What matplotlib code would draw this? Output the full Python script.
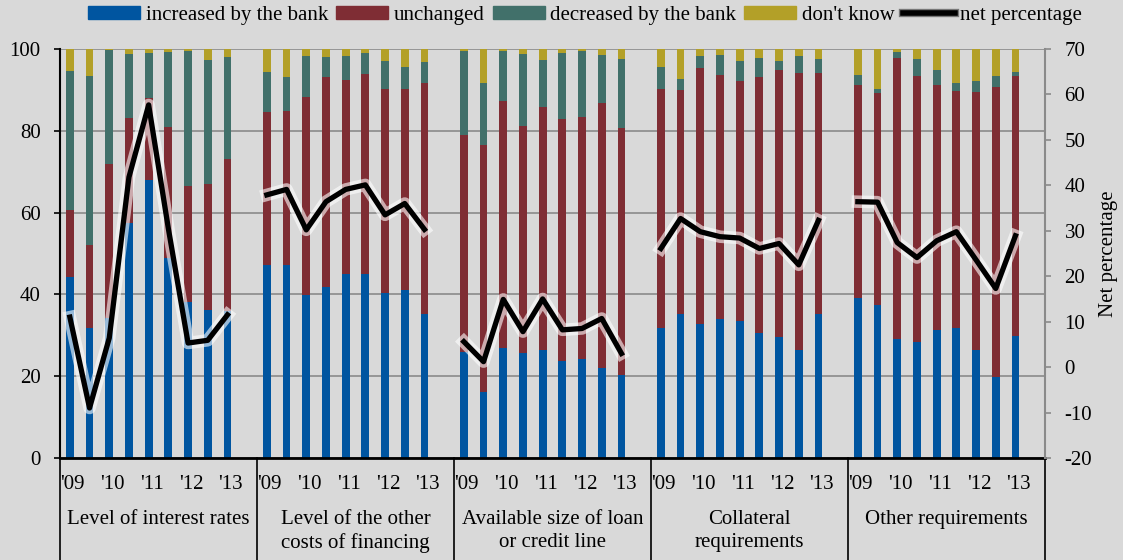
import numpy as np
import matplotlib
matplotlib.use("Agg")
import matplotlib.pyplot as plt
import matplotlib.transforms as mtrans
import matplotlib.patheffects as pe
from matplotlib.patches import Patch
from matplotlib.lines import Line2D

plt.rcParams['font.family'] = ['Liberation Serif', 'DejaVu Serif']
plt.rcParams['axes.unicode_minus'] = False

groups = ["Level of interest rates", "Level of the other\ncosts of financing",
          "Available size of loan\nor credit line", "Collateral\nrequirements",
          "Other requirements"]
years = ["'09", "'10", "'11", "'12", "'13"]

# shares in %, 9 half-years per group ('09 to '13)
increased = [
    [44.2, 31.9, 34.2, 57.4, 68.0, 48.8, 38.2, 36.3, 36.0],
    [47.3, 47.1, 39.8, 41.8, 44.9, 44.9, 40.4, 41.1, 35.3],
    [26.0, 16.2, 27.0, 25.6, 26.5, 23.7, 24.3, 21.9, 20.2],
    [31.7, 35.1, 32.7, 33.9, 33.5, 30.6, 29.5, 26.5, 35.3],
    [39.0, 37.3, 29.0, 28.4, 31.4, 31.8, 26.5, 19.8, 29.8],
]
unchanged = [
    [16.5, 20.2, 37.7, 25.7, 20.0, 32.1, 28.3, 30.7, 37.1],
    [37.2, 37.7, 48.5, 51.4, 47.4, 49.1, 49.7, 49.0, 56.5],
    [52.9, 60.4, 60.3, 55.6, 59.2, 59.2, 59.0, 65.0, 60.4],
    [58.5, 54.9, 62.6, 59.7, 58.7, 62.5, 65.4, 67.6, 58.8],
    [52.1, 51.9, 68.8, 65.0, 59.9, 57.9, 63.1, 70.9, 63.5],
]
decreased = [
    [33.8, 41.4, 27.8, 15.7, 10.9, 18.4, 33.1, 30.2, 24.9],
    [9.8, 8.3, 9.9, 4.9, 6.1, 5.0, 7.0, 5.4, 4.9],
    [20.5, 15.1, 12.1, 17.6, 11.7, 16.1, 16.1, 11.7, 17.0],
    [5.3, 2.7, 2.9, 4.9, 4.8, 4.8, 2.2, 4.3, 3.5],
    [2.6, 1.1, 1.5, 4.2, 3.5, 2.1, 2.5, 2.8, 1.0],
]
dont_know = [
    [5.5, 6.5, 0.3, 1.2, 1.1, 0.7, 0.4, 2.8, 2.0],
    [5.7, 6.9, 1.8, 1.9, 1.6, 1.0, 2.9, 4.5, 3.3],
    [0.6, 8.3, 0.6, 1.2, 2.6, 1.0, 0.6, 1.4, 2.4],
    [4.5, 7.3, 1.8, 1.5, 3.0, 2.1, 2.9, 1.6, 2.4],
    [6.3, 9.7, 0.7, 2.4, 5.2, 8.2, 7.9, 6.5, 5.7],
]
net = [
    [11.0, -9.0, 6.4, 41.8, 57.7, 30.5, 5.3, 5.9, 11.5],
    [37.9, 39.1, 30.2, 36.4, 39.1, 40.1, 33.5, 36.0, 30.3],
    [5.6, 1.2, 14.9, 7.8, 15.0, 8.2, 8.5, 10.7, 3.0],
    [26.1, 32.7, 29.8, 28.7, 28.4, 26.1, 27.2, 22.5, 32.3],
    [36.4, 36.3, 27.4, 24.1, 27.8, 29.8, 23.6, 17.3, 28.9],
]

cols = ['#0055a0', '#7f2d34', '#41706a', '#b3a028']
bg = '#d9d9d9'
halo = [pe.Stroke(linewidth=9, foreground='white', alpha=0.6), pe.Normal()]
fs = 15

fig = plt.figure(figsize=(11.23, 5.6), dpi=100, facecolor=bg)
ax = fig.add_axes([60/1123, 102/560, 985/1123, 409/560])
ax.set_facecolor(bg)
ax2 = ax.twinx()

for g in range(5):
    x = g*10 + np.arange(9)
    bottom = np.zeros(9)
    for vals, c in zip([increased[g], unchanged[g], decreased[g], dont_know[g]], cols):
        ax.bar(x, vals, 0.4, bottom=bottom, color=c, zorder=2)
        bottom += np.array(vals)
    ax2.plot(x, net[g], color='black', lw=3.8, path_effects=halo, zorder=3)

ax.set_xlim(-0.5, 49.5)
ax.set_ylim(0, 100)
ax2.set_ylim(-20, 70)
ax.set_yticks(range(0, 101, 20))
ax2.set_yticks(range(-20, 71, 10))
ax.set_xticks([])
ax.yaxis.grid(True, color='#8a8a8a', lw=1.2, zorder=0)
ax.set_axisbelow(True)

for s in ['top', 'right']:
    ax.spines[s].set_visible(False)
ax.spines['left'].set_linewidth(1.5)
ax.spines['bottom'].set_linewidth(2)
for s in ['top', 'left', 'bottom']:
    ax2.spines[s].set_visible(False)
ax2.spines['right'].set_color('#8a8a8a')
ax2.spines['right'].set_linewidth(1.5)

ax.tick_params(axis='y', length=4, width=1.2, labelsize=fs, pad=10)
ax2.tick_params(axis='y', length=4, width=1.2, color='#8a8a8a', labelsize=fs, pad=10)
ax2.set_ylabel('Net percentage', fontsize=fs, labelpad=5)

tr = mtrans.blended_transform_factory(ax.transData, ax.transAxes)
for b in range(6):
    ax.plot([b*10 - 0.5]*2, [0, -0.25], transform=tr, color='black', lw=1.2, clip_on=False)
for g in range(5):
    for k, yr in enumerate(years):
        ax.text(g*10 + 2*k + 0.15, -0.064, yr, transform=tr, ha='center', va='center', fontsize=fs)
    ax.text(g*10 + 4.5, -0.128, groups[g], transform=tr, ha='center', va='top',
            fontsize=fs, linespacing=1.25)

handles = [Patch(color=c) for c in cols]
handles.append(Line2D([], [], color='black', lw=4,
                      path_effects=[pe.Stroke(linewidth=6, foreground='#777777'), pe.Normal()]))
labels = ['increased by the bank', 'unchanged', 'decreased by the bank', "don't know", 'net percentage']
fig.legend(handles, labels, loc='center', bbox_to_anchor=(0.521, 0.973), ncol=5,
           frameon=False, fontsize=fs, handlelength=2.5, handleheight=0.55,
           handletextpad=0.25, columnspacing=0.4)

fig.savefig('out.png', dpi=100, facecolor=bg)
